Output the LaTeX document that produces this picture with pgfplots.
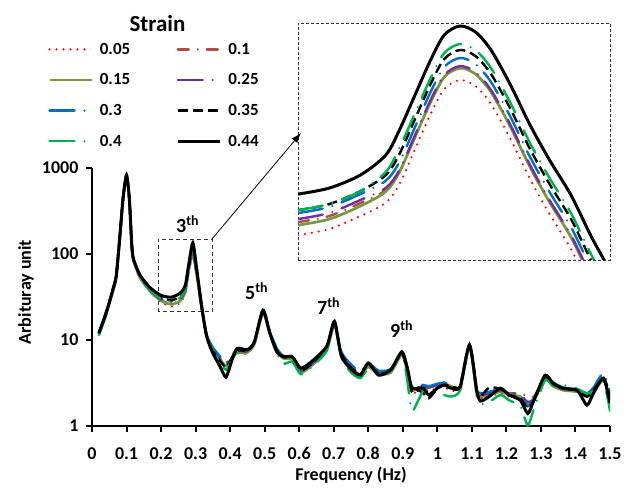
\documentclass[border=0pt]{standalone}
\usepackage{fontspec}
\setmainfont{Carlito}
\usepackage{pgfplots}
\pgfplotsset{compat=1.18}
\usepackage{pgfplotstable}
\usetikzlibrary{arrows.meta}
\definecolor{cred}{RGB}{255,0,0}
\definecolor{cbrn}{RGB}{176,76,72}
\definecolor{colv}{RGB}{122,150,62}
\definecolor{cpur}{RGB}{112,48,160}
\definecolor{cblu}{RGB}{0,112,192}
\definecolor{cgrn}{RGB}{0,176,80}

\pgfplotstableread{
x s05 s10 s15 s25 s30 s35 s40 s44
0.02 11.8 11.9 11.7 12.0 12.2 12.0 11.4 12.0
0.04 20 20 19.5 20.5 21 20 19.5 20
0.06 37 37 36 38 39 38 37 38
0.07 54 54 53 55 56 55 54 55
0.08 145 146 144 147 148 148 146 150
0.09 440 445 440 445 450 450 445 450
0.10 800 805 800 810 815 820 815 830
0.108 430 435 430 440 440 445 440 450
0.115 125 127 126 128 130 130 128 133
0.12 84 85 84 86 87 87 86 88
0.14 52 53 52 53 54 55 54 56
0.17 36 37 36.5 37 38 38.5 37.5 40
0.20 27.5 29 28.5 29.5 30 31 30 33
0.23 24.5 26.5 26 27.5 28.5 29 28 31.5
0.255 27 29 28.5 30 31 32 31 35
0.27 34 37 36.5 38 39 40 39 43
0.28 60 65 64 67 68 70 69 75
0.292 95 102 102 105 110 118 120 135
0.303 55 58 58 60 62 64 64 68
0.318 22 23 23 23.5 24 24 24.5 24
0.332 11 11.2 11.2 11.3 11.5 11.3 11.5 11
0.35 7.6 7.8 7.6 7.9 8.2 7.5 7.6 7
0.37 6.0 6.2 6.0 6.2 6.5 5.8 5.6 5
0.388 5.5 5.3 5.0 5.2 5.4 4.8 4.5 3.7
0.405 6.3 6.4 6.2 6.3 6.6 6.2 5.9 5.8
0.42 7.0 7.3 7.1 7.4 7.6 7.5 7.2 8.0
0.45 7.0 7.2 7.2 7.4 7.6 7.6 7.3 7.7
0.47 9.0 9.2 9.0 9.3 9.5 9.4 9.0 9.5
0.495 20.5 21 20.5 21.5 22.5 22 21 22
0.515 12 12.2 12 12.4 12.8 12.4 12 12
0.535 7.5 7.6 7.4 7.8 8.0 7.6 7.0 7.3
0.555 6.2 6.3 6.1 6.4 6.5 6.3 5.3 6.4
0.58 6.2 6.2 6.0 6.3 6.4 6.3 5.6 6.4
0.605 4.3 4.3 4.2 4.4 4.5 4.4 4.0 4.7
0.64 5.2 5.3 5.2 5.4 5.6 5.5 5.0 5.8
0.68 7.8 8.0 7.8 8.2 8.4 8.2 7.5 8.5
0.702 15 15.5 15 15.8 16.2 16 15.5 16.5
0.722 6.8 6.9 6.7 7.0 7.3 7.0 6.2 6.5
0.75 4.8 4.9 4.7 5.0 5.2 4.8 4.2 4.6
0.777 4.0 4.0 3.9 4.1 4.3 4.0 3.6 3.9
0.80 5.0 5.1 4.9 5.2 5.4 5.2 4.6 5.4
0.83 4.0 4.1 4.0 4.2 4.4 4.1 4.0 3.9
0.865 4.2 4.3 4.2 4.5 4.6 4.4 4.3 4.5
0.897 6.8 6.9 6.8 7.0 7.2 7.0 7.0 7.3
0.912 4.3 4.6 4.5 4.8 5.0 4.4 3.6 4.9
0.926 2.4 2.7 2.6 2.8 2.9 2.5 1.5 2.8
0.945 2.6 2.8 2.8 2.9 3.0 2.6 2.0 2.75
0.96 2.7 2.8 2.9 2.9 3.0 2.4 2.6 2.75
0.975 2.5 2.7 2.8 2.8 2.9 2.1 2.7 2.3
1.0 2.8 2.9 3.0 3.0 3.1 2.7 2.7 2.75
1.02 2.8 3.0 3.1 3.0 3.2 3.0 2.3 3.0
1.04 2.6 2.8 2.9 2.8 3.0 2.9 2.2 2.75
1.066 2.7 2.8 2.8 2.9 3.0 2.9 2.6 2.85
1.093 8.3 8.5 8.4 8.7 9.3 8.6 8.4 8.8
1.114 2.6 2.7 2.6 2.7 2.9 2.6 2.3 2.6
1.125 2.1 2.3 2.2 2.3 2.4 2.2 1.8 1.95
1.15 2.2 2.4 2.3 2.4 2.5 2.8 1.9 2.2
1.183 2.4 2.6 2.5 2.6 2.7 2.7 2.3 2.75
1.207 2.2 2.4 2.3 2.4 2.5 2.3 2.0 2.3
1.24 2.0 2.4 2.2 2.3 2.2 2.1 1.7 2.0
1.262 1.6 2.2 1.8 1.9 1.7 1.6 1.02 1.4
1.28 1.9 2.2 2.0 2.1 2.1 2.0 1.6 2.0
1.312 3.5 3.6 3.5 3.7 3.8 3.7 3.4 3.9
1.336 3.0 3.0 2.9 3.1 3.2 3.1 2.9 3.1
1.365 2.6 2.7 2.6 2.7 2.8 2.7 3.0 2.75
1.405 2.5 2.6 2.5 2.6 2.7 2.6 2.7 2.6
1.433 2.2 2.3 2.2 2.3 2.4 2.2 2.4 1.75
1.452 2.5 2.6 2.5 2.7 2.8 2.6 2.5 2.4
1.481 3.4 3.5 3.4 3.6 4.1 3.6 3.3 3.6
1.5 2.2 2.2 2.1 2.3 2.5 2.3 1.5 1.85
}\data

\pgfplotstableread{
x s05 s10 s15 s25 s30 s35 s40 s44
0.190 26.02 28.96 28.24 29.69 31.19 31.95 31.95 36.46
0.206 27.34 30.43 29.67 31.20 32.77 33.58 33.58 38.31
0.222 30.44 33.88 33.04 34.73 36.48 37.38 37.38 42.65
0.235 33.95 37.64 37.22 38.36 40.69 42.58 43.70 50.25
0.242 39.58 43.69 43.69 44.42 47.46 50.69 53.22 61.74
0.250 52.79 58.28 58.28 59.24 63.30 67.61 70.99 82.35
0.258 70.42 77.74 77.74 79.03 84.44 90.19 94.70 109.85
0.265 86.47 95.47 95.47 97.05 103.7 110.8 116.3 134.9
0.273 93.14 102.8 102.8 104.5 111.7 119.3 125.3 145.3
0.281 88.65 97.88 97.88 99.50 106.3 113.5 119.2 138.3
0.289 76.41 84.36 84.36 85.76 91.62 97.87 102.8 119.2
0.299 57.31 63.27 63.27 64.32 68.72 73.40 77.07 89.4
0.309 41.25 45.54 45.54 46.29 49.46 52.83 55.47 64.35
0.319 30.93 34.15 34.15 34.71 37.09 39.61 41.59 48.25
0.330 23.18 25.59 25.59 26.01 27.79 29.69 31.17 36.16
0.340 16.68 18.41 18.41 18.72 20.00 21.36 22.43 26.02
0.347 13.58 14.99 14.99 15.24 16.28 17.39 18.26 21.18
0.353 11.33 12.51 12.51 12.71 13.58 14.51 15.23 17.67
}\inset

\pgfplotsset{
  s05/.style={color=cred, line width=2.4pt, line cap=round, dash pattern=on 0pt off 7pt},
  s10/.style={color=cbrn, line width=2.4pt, line cap=round, dash pattern=on 11pt off 9pt on 0pt off 9pt},
  s15/.style={color=colv, line width=2.7pt, solid},
  s25/.style={color=cpur, line width=2.4pt, line cap=round, dash pattern=on 25pt off 10pt on 0pt off 10pt},
  s30/.style={color=cblu, line width=2.4pt, line cap=round, dash pattern=on 25pt off 10pt on 0pt off 10pt},
  s35/.style={color=black, line width=2.4pt, dash pattern=on 10pt off 5pt},
  s40/.style={color=cgrn, line width=2.4pt, line cap=round, dash pattern=on 25pt off 10pt on 0pt off 10pt},
  s44/.style={color=black, line width=3pt, solid},
}

\begin{document}
\begin{tikzpicture}
\path[use as bounding box] (-92pt,-66pt) rectangle (542pt,426pt);
\begin{axis}[
  name=main, at={(0pt,0pt)}, anchor=south west, scale only axis,
  width=518pt, height=258pt,
  ymode=log, xmin=0, xmax=1.5, ymin=1, ymax=1000,
  axis x line*=bottom, axis y line*=left,
  axis line style={-, line width=2.6pt},
  tick align=outside, major tick length=6pt,
  tick style={line width=2pt, black},
  xtick={0,0.1,0.2,0.3,0.4,0.5,0.6,0.7,0.8,0.9,1.0,1.1,1.2,1.3,1.4,1.5},
  xticklabels={0,0.1,0.2,0.3,0.4,0.5,0.6,0.7,0.8,0.9,1,1.1,1.2,1.3,1.4,1.5},
  ytick={1,10,100,1000}, yticklabels={1,10,100,1000},
  yminorticks=false,
  /pgf/number format/assume math mode=true,
  tick label style={font=\bfseries\fontsize{18}{18}\selectfont},
  xticklabel style={yshift=-12pt},
  yticklabel style={xshift=-4pt},
  xlabel={Frequency (Hz)}, ylabel={Arbituray unit},
  every axis x label/.style={at={(axis description cs:0.5,0)}, yshift=-49pt, anchor=center, font=\bfseries\fontsize{18}{18}\selectfont},
  every axis y label/.style={at={(axis description cs:0,0.519)}, xshift=-66pt, rotate=90, anchor=center, font=\bfseries\fontsize{18}{18}\selectfont},
  no markers,
  legend columns=2,
  legend cell align=left,
  legend image code/.code={\draw[#1] (0pt,0pt) -- (42pt,0pt);},
  legend style={at={(axis description cs:-0.085,1.493)}, anchor=north west,
    draw=none, fill=none, inner sep=0pt,
    font=\bfseries\fontsize{17}{17}\selectfont,
    row sep=14pt, column sep=5pt,
    /tikz/every even column/.append style={column sep=44pt}},
]
\draw[black!80, line width=0.9pt, dash pattern=on 4pt off 3pt] (axis cs:0.191,21.2) rectangle (axis cs:0.3475,149);
\addplot[s05, smooth, tension=0.4] table[x=x,y=s05] {\data};
\addplot[s10, smooth, tension=0.4] table[x=x,y=s10] {\data};
\addplot[s15, smooth, tension=0.4] table[x=x,y=s15] {\data};
\addplot[s25, smooth, tension=0.4] table[x=x,y=s25] {\data};
\addplot[s30, smooth, tension=0.4] table[x=x,y=s30] {\data};
\addplot[s35, smooth, tension=0.4] table[x=x,y=s35] {\data};
\addplot[s40, smooth, tension=0.4] table[x=x,y=s40] {\data};
\addplot[s44, smooth, tension=0.4] table[x=x,y=s44] {\data};
\legend{0.05,0.1,0.15,0.25,0.3,0.35,0.4,0.44}
\end{axis}
\begin{axis}[
  name=ins, at={(206pt,166pt)}, anchor=south west, scale only axis,
  width=312pt, height=237pt,
  ymode=log, xmin=0.19, xmax=0.35, ymin=21.2, ymax=149,
  ticks=none,
  axis line style={black!80, line width=0.9pt, dash pattern=on 3pt off 2pt},
  no markers,
]
\addplot[s05, smooth] table[x=x,y=s05] {\inset};
\addplot[s10, smooth] table[x=x,y=s10] {\inset};
\addplot[s15, smooth] table[x=x,y=s15] {\inset};
\addplot[s25, smooth] table[x=x,y=s25] {\inset};
\addplot[s30, smooth] table[x=x,y=s30] {\inset};
\addplot[s35, smooth] table[x=x,y=s35] {\inset};
\addplot[s40, smooth] table[x=x,y=s40] {\inset};
\addplot[s44, smooth] table[x=x,y=s44] {\inset};
\end{axis}
\draw[-{Latex[length=10pt,width=7pt]}, line width=0.8pt] (120pt,187pt) -- (209pt,293pt);
\node[anchor=base, font=\bfseries\fontsize{23}{23}\selectfont] at (65.5pt,394pt) {Strain};
\begin{scope}[every node/.style={anchor=base west, inner sep=0pt, font=\bfseries\fontsize{20}{20}\selectfont}]
\node at (84pt,193pt) {3\textsuperscript{th}};
\node at (153pt,126pt) {5\textsuperscript{th}};
\node at (225pt,111pt) {7\textsuperscript{th}};
\node at (298pt,88pt) {9\textsuperscript{th}};
\end{scope}
\end{tikzpicture}
\end{document}
